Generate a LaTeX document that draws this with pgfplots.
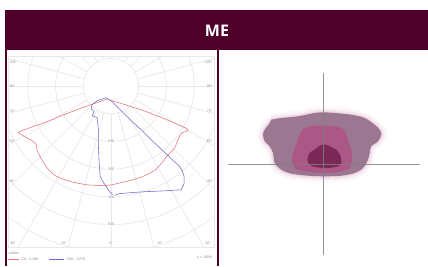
\documentclass[border=0pt]{standalone}
\usepackage{pgfplots}
\usepackage{pgfplotstable}
\pgfplotsset{compat=1.18}
\usepackage{fontspec}
\setmainfont{Liberation Sans}
\newfontfamily\headfont{Open Sans}
\definecolor{maroon}{HTML}{4E0028}
\definecolor{gridc}{HTML}{E8E8E8}
\definecolor{labc}{HTML}{8A8A8A}
\definecolor{redc}{HTML}{E4707C}
\definecolor{bluec}{HTML}{6868D0}
\definecolor{outerc}{HTML}{9B7791}
\definecolor{midc}{HTML}{AB5887}
\definecolor{innerc}{HTML}{7A2856}
\definecolor{glowc}{HTML}{D098B8}
\definecolor{crossc}{HTML}{808080}
\pgfplotstableread{
x y
-51.7 44.3
-41.7 46
-25 47.7
-8.3 51
0 51.7
11.7 51
28.3 49.3
41.7 46
51.7 39.3
56.7 34.3
58.3 29.3
55 22.7
48.3 17.7
46.7 11
45 4.3
40 -4
31.7 -9
18.3 -11.7
1.7 -12.3
-15 -11.7
-31.7 -9.7
-41.7 -5.7
-48.3 1
-50 11
-53.3 17.7
-58.3 22.7
-60 29.3
-58.3 34.3
-53.3 41
-51.7 44.3
}\outertab
\begin{document}
\begin{tikzpicture}[x=1pt,y=1pt]
\path[use as bounding box] (0,0) rectangle (428,266);
% header
\fill[maroon] (5,216) rectangle (428,256);
\node[text=white,font=\headfont\bfseries\fontsize{16}{16}\selectfont] at (217,235) {ME};
\fill[maroon] (4.5,0) rectangle (6.5,216);
\fill[maroon] (217.3,0) rectangle (218.8,216);
% polar grid
\begin{scope}
\clip (8,19) rectangle (214,210);
\foreach \k in {1,...,8} \draw[gridc, line width=0.7] (111,180) circle[radius=27.7*\k];
\foreach \a in {0,15,...,345} \draw[gridc, line width=0.7] ([shift={(111,180)}]\a:27.7) -- ([shift={(111,180)}]\a:300);
\end{scope}
\draw[gridc, line width=0.6] (8,19) rectangle (214,210);
% polar data
\begin{axis}[at={(8,19)}, anchor=south west, scale only axis, width=206pt, height=191pt,
  xmin=-372, xmax=372, ymin=-581, ymax=108, axis lines=none, clip=true]
\addplot[redc, line width=0.55pt, smooth, tension=0.4] coordinates {
(0,0) (-112,-39.7) (-220,-83) (-310,-115.5) (-303,-126) (-285,-137) (-263.5,-148)
(-249,-162) (-245.5,-184) (-227,-220) (-202,-256) (-173,-278) (-123,-296) (-65,-307)
(0,-310) (25,-307) (87,-292) (134,-278) (177,-256) (202,-231) (224,-202) (249,-177)
(260,-152) (267,-134) (278,-119) (296,-105) (159,-47) (25,-3.6) (0,0)};
\addplot[bluec, line width=0.55pt] coordinates {
(3.6,7.2) (-29,-3.6) (-47,-18) (-50.5,-32.5) (-40,-43) (-47,-58) (-29,-65) (-25,-105)
(-25,-159) (-21.7,-231) (-18,-278) (-3.6,-303) (11,-325) (29,-347) (50.5,-339)
(87,-336) (141,-332) (213,-329) (274,-325) (285,-303) (285,-278) (278,-256) (264,-235)
(242,-217) (220,-195) (177,-155) (134,-112) (94,-76) (58,-40) (25,-7) (3.6,7.2)};
\end{axis}
% polar labels
\begin{scope}[every node/.style={text=labc, font=\fontsize{3.6}{4}\selectfont, inner sep=0.5pt}]
\foreach \t/\y in {105/204,90/180,75/155,60/125,45/85}{
  \node[anchor=west] at (9,\y) {\t°};
  \node[anchor=east] at (213,\y) {\t°};
}
\node at (13,23) {30°}; \node at (64,23) {15°}; \node at (111,23) {0°};
\node at (160,23) {15°}; \node at (208,23) {30°};
\foreach \v/\y in {200/124.6,300/97,400/69.2,500/41.5}
  \node[fill=white] at (111,\y) {\v};
\node[anchor=west] at (8,13) {cd/klm};
\node[anchor=west] at (21,7) {C0 - C180};
\node[anchor=west] at (66,7) {C90 - C270};
\node[anchor=east] at (213,8) {η = 100\%};
\end{scope}
\draw[redc, line width=0.5] (8,7) -- (19,7);
\draw[bluec, line width=0.5] (49,7) -- (64,7);
% right panel
\begin{axis}[at={(220,0)}, anchor=south west, scale only axis, width=208pt, height=216pt,
  xmin=-103, xmax=105, ymin=-102, ymax=114, axis lines=none, clip=false]
\addplot[glowc, line width=12pt, opacity=0.06, line join=round, smooth, tension=0.5] table {\outertab};
\addplot[glowc, line width=8pt, opacity=0.09, line join=round, smooth, tension=0.5] table {\outertab};
\addplot[glowc, line width=5pt, opacity=0.12, line join=round, smooth, tension=0.5] table {\outertab};
\addplot[glowc, line width=2.5pt, opacity=0.18, line join=round, smooth, tension=0.5] table {\outertab};
\addplot[fill=outerc, draw=none, smooth, tension=0.5] table {\outertab};
\addplot[fill=midc, draw=none, smooth, tension=0.5] coordinates {
(-18.3,36) (-8.3,38.3) (5,38.3) (16.7,37) (21.7,32.7) (25,24.3) (28.3,14.3) (29,4.3)
(26.7,-4) (18.3,-7.3) (1.7,-9) (-18.3,-7.3) (-28.3,-4) (-31,4.3) (-29,14.3) (-25,24.3)
(-21.7,32.7) (-18.3,36)};
\addplot[fill=innerc, draw=none, smooth, tension=0.5] coordinates {
(-8.3,14.3) (-3.3,18.3) (1.7,19.7) (6.7,17.7) (13.3,14.3) (17.7,7.7) (18.3,1) (15,-2.3)
(5,-4) (-8.3,-3) (-13.3,-0.7) (-15.7,4.3) (-13.3,11) (-8.3,14.3)};
\addplot[crossc, line width=0.7pt, opacity=0.85] coordinates {(0,-91) (0,91)};
\addplot[crossc, line width=0.7pt, opacity=0.85] coordinates {(-95,0) (97,0)};
\end{axis}
\end{tikzpicture}
\end{document}
